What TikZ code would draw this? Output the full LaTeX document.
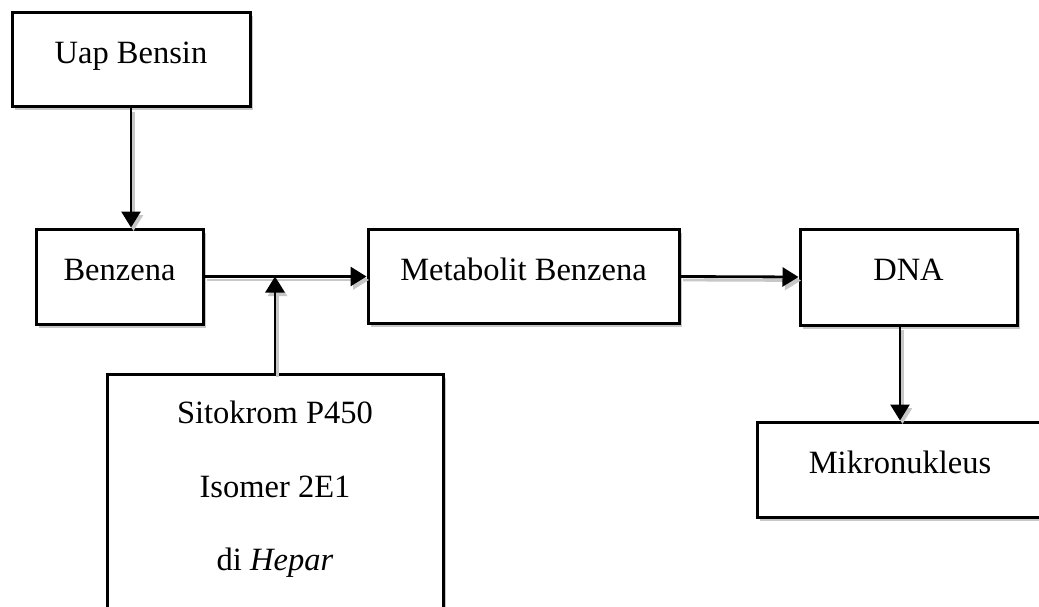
\documentclass[tikz,border=0pt]{standalone}
\usepackage{fontspec}
\setmainfont{Liberation Serif}
\usetikzlibrary{arrows.meta,shadows}
\tikzset{
  box/.style={draw=black, line width=3pt, fill=white, rectangle, inner sep=0pt,
    font=\fontsize{32.5}{38}\selectfont, text height=22pt, text depth=15pt,
    drop shadow={shadow xshift=2.5pt, shadow yshift=-3.5pt, fill=black!22, opacity=1}},
  conn/.style={line width=2.8pt, -{Triangle[length=16pt,width=19pt]},
    preaction={draw=black!22, line width=2.8pt, -{Triangle[length=16pt,width=19pt]},
      transform canvas={shift={(2.5pt,-3.5pt)}}}},
  txt/.style={font=\fontsize{32.5}{73.5}\selectfont, inner sep=0pt, align=center}
}
\begin{document}
\begin{tikzpicture}[x=1pt,y=-1pt]
\useasboundingbox (0,0) rectangle (1039,607);
\clip (0,0) rectangle (1039,607);
\fill[white] (0,0) rectangle (1039,607);
\node[box, minimum width=238pt, minimum height=94pt] (uap) at (131,60) {Uap Bensin};
\node[box, minimum width=167pt, minimum height=95pt] (benz) at (119.5,276.5) {Benzena};
\node[box, minimum width=311pt, minimum height=94pt] (meta) at (523.5,276.5) {Metabolit Benzena};
\node[box, minimum width=217pt, minimum height=96pt] (dna) at (908.5,277) {DNA};
\node[box, minimum width=286pt, minimum height=95pt] (mikro) at (900,469.5) {Mikronukleus};
\node[box, minimum width=336pt, minimum height=280pt, anchor=north] (sito) at (275,373) {};
\node[txt, anchor=north] (sitotext) at (275,401) {Sitokrom P450\\Isomer 2E1\\di \textit{Hepar}};
\draw[conn] (uap.south) -- (benz.north -| uap.south);
\draw[conn] (benz.east) -- (meta.west);
\draw[conn] (sito.north) -- (sito.north |- benz.east);
\draw[conn] (meta.east) -- (dna.west);
\draw[conn] (dna.south -| mikro.north) -- (mikro.north);
\end{tikzpicture}
\end{document}
